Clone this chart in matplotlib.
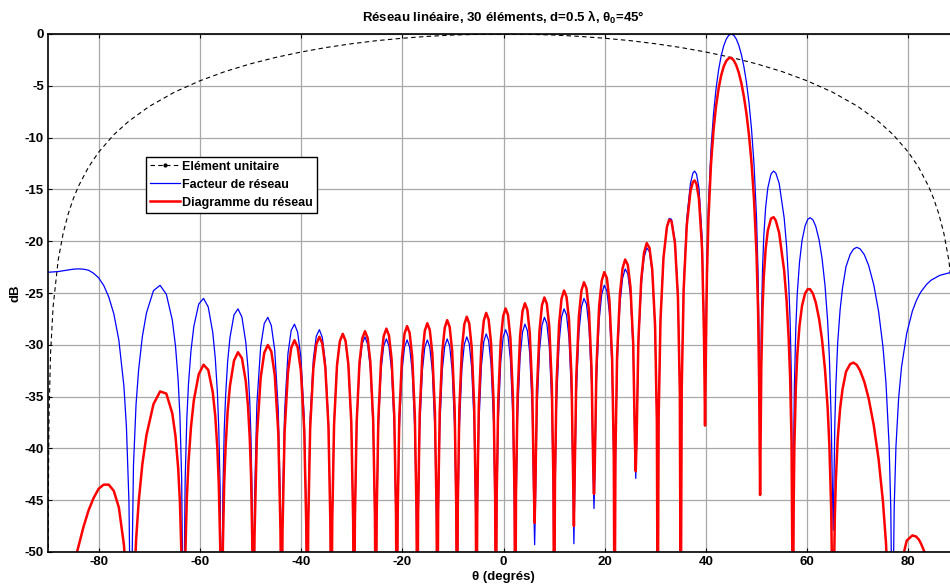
import matplotlib
matplotlib.use('Agg')
import matplotlib.pyplot as plt
from matplotlib.lines import Line2D

plt.rcParams['font.family'] = ['Liberation Sans', 'DejaVu Sans']
plt.rcParams['font.weight'] = 'bold'
plt.rcParams['axes.unicode_minus'] = False
plt.rcParams['mathtext.fontset'] = 'custom'
plt.rcParams['mathtext.rm'] = 'Liberation Sans:bold'
plt.rcParams['mathtext.bf'] = 'Liberation Sans:bold'
plt.rcParams['mathtext.default'] = 'bf'

# angle grid (deg), one line per lobe, last value of each line is the null
theta = [
    -90.00, -89.00, -88.00, -87.00, -86.00, -85.00, -84.00, -83.00, -82.00, -81.00, -80.00, -79.00, -78.00, -77.00,
    -76.00, -75.00, -74.50, -74.00, -73.65,
    -73.11, -72.60, -72.09, -71.36, -70.54, -69.16, -67.85, -66.62, -65.44, -64.81, -64.28, -63.93, -63.59, -63.24,
    -62.90, -62.57, -62.24, -61.75, -61.19, -60.22, -59.27, -58.34, -57.45, -56.95, -56.53, -56.26, -55.98, -55.71,
    -55.44, -55.18, -54.90, -54.51, -54.05, -53.25, -52.46, -51.68, -50.92, -50.49, -50.13, -49.89, -49.66, -49.43,
    -49.19, -48.73, -47.98, -47.27, -46.57, -45.88, -45.20, -44.50, -44.07, -43.86,
    -43.66, -43.25, -42.59, -41.95, -41.30, -40.68, -40.04, -39.38, -38.97, -38.77,
    -38.58, -38.20, -37.58, -36.99, -36.38, -35.80, -35.21, -34.59, -34.21, -34.02,
    -33.84, -33.48, -32.90, -32.34, -31.76, -31.21, -30.65, -30.07, -29.71, -29.53,
    -29.36, -29.01, -28.46, -27.92, -27.37, -26.84, -26.31, -25.75, -25.40, -25.23,
    -25.06, -24.73, -24.19, -23.67, -23.14, -22.63, -22.11, -21.57, -21.24, -21.07,
    -20.91, -20.59, -20.06, -19.56, -19.05, -18.55, -18.04, -17.52, -17.19, -17.03,
    -16.87, -16.56, -16.04, -15.55, -15.05, -14.56, -14.06, -13.55, -13.23, -13.07,
    -12.91, -12.60, -12.10, -11.61, -11.13, -10.64, -10.15, -9.65, -9.34, -9.18,
    -9.03, -8.72, -8.22, -7.74, -7.26, -6.77, -6.29, -5.79, -5.48, -5.33,
    -5.18, -4.87, -4.37, -3.89, -3.42, -2.94, -2.46, -1.96, -1.65, -1.50,
    -1.35, -1.04, -0.55, -0.07, 0.41, 0.89, 1.37, 1.86, 2.17, 2.32,
    2.47, 2.78, 3.28, 3.76, 4.23, 4.71, 5.19, 5.69, 6.00, 6.15,
    6.30, 6.61, 7.12, 7.60, 8.08, 8.56, 9.05, 9.55, 9.86, 10.01,
    10.17, 10.48, 10.99, 11.47, 11.96, 12.45, 12.94, 13.44, 13.75, 13.91,
    14.07, 14.39, 14.90, 15.40, 15.90, 16.39, 16.89, 17.40, 17.72, 17.88,
    18.04, 18.37, 18.90, 19.41, 19.91, 20.42, 20.93, 21.46, 21.79, 21.95,
    22.12, 22.45, 23.00, 23.52, 24.04, 24.56, 25.09, 25.63, 25.96, 26.13,
    26.30, 26.65, 27.22, 27.76, 28.30, 28.84, 29.39, 29.95, 30.30, 30.47,
    30.65, 31.02, 31.61, 32.29, 32.74, 33.20, 33.88, 34.47, 34.84, 35.02,
    35.21, 35.60, 36.22, 36.94, 37.42, 37.76, 38.14, 38.62, 39.24, 39.63, 39.82,
    40.00, 40.20, 40.50, 41.00, 41.50, 42.00, 42.50, 43.00, 43.50, 44.00, 44.50, 45.00,
    45.50, 46.00, 46.50, 47.00, 47.50, 48.00, 48.50, 49.00, 49.50, 50.00, 50.30, 50.50, 50.70,
    50.82, 50.94, 51.18, 51.42, 51.79, 52.22, 52.85, 53.37, 53.81, 54.47, 55.46, 55.94, 56.35, 56.63, 56.91, 57.20,
    57.33, 57.47, 57.76, 58.04, 58.48, 58.99, 59.59, 60.12, 60.58, 61.14, 61.70, 62.35, 62.93, 63.52, 64.04, 64.39,
    64.75, 65.13,
    65.29, 65.47, 65.66, 66.03, 66.51, 66.99, 67.68, 68.50, 69.14, 69.79, 70.46, 71.29, 72.14, 73.16, 74.11, 74.97,
    75.57, 76.19, 76.52, 76.85,
    77.19, 77.54, 78.08, 78.65, 79.67, 80.79, 81.50, 82.07, 82.50, 83.61, 84.50, 86.18, 88.00, 90.00,
]

# array factor (dB), -60 = below the axis
facteur = [
    -23.00, -22.97, -22.93, -22.85, -22.77, -22.70, -22.67, -22.70, -22.80, -23.09, -23.53, -24.26, -25.37, -27.00,
    -29.55, -34.00, -37.96, -45.20, -60,
    -41.62, -35.73, -32.39, -29.21, -26.91, -24.77, -24.26, -25.12, -27.61, -30.11, -33.45, -36.91, -42.92, -60,
    -43.02, -37.12, -33.76, -30.57, -28.24, -26.07, -25.52, -26.35, -28.80, -31.29, -34.61, -38.06, -44.05, -60,
    -44.13, -38.24, -34.85, -31.66, -29.31, -27.11, -26.53, -27.33, -29.76, -32.24, -35.54, -39.00, -44.97, -60,
    -45.03, -35.74, -30.17, -27.95, -27.35, -28.13, -30.54, -36.30, -45.71, -60,
    -45.78, -36.47, -30.87, -28.62, -28.01, -28.78, -31.17, -36.91, -46.32, -60,
    -46.37, -37.04, -31.43, -29.17, -28.54, -29.29, -31.67, -37.40, -46.79, -60,
    -46.83, -37.50, -31.87, -29.60, -28.95, -29.69, -32.05, -37.76, -47.15, -60,
    -47.17, -37.83, -32.19, -29.90, -29.24, -29.96, -32.31, -38.01, -47.39, -60,
    -47.40, -38.06, -32.40, -30.10, -29.43, -30.14, -32.48, -38.16, -47.54, -60,
    -47.57, -38.21, -32.54, -30.22, -29.53, -30.22, -32.54, -38.21, -47.57, -60,
    -47.57, -38.21, -32.54, -30.22, -29.53, -30.22, -32.54, -38.21, -47.57, -60,
    -47.54, -38.16, -32.48, -30.14, -29.43, -30.10, -32.40, -38.06, -47.40, -60,
    -47.39, -38.01, -32.31, -29.96, -29.24, -29.90, -32.19, -37.83, -47.17, -60,
    -47.15, -37.76, -32.05, -29.69, -28.95, -29.60, -31.87, -37.50, -46.83, -60,
    -46.79, -37.40, -31.67, -29.29, -28.54, -29.17, -31.43, -37.04, -46.37, -60,
    -46.32, -36.91, -31.17, -28.78, -28.01, -28.62, -30.87, -36.47, -45.78, -49.3,
    -45.73, -36.31, -30.54, -28.13, -27.35, -27.95, -30.18, -35.75, -45.05, -60,
    -44.99, -35.56, -29.77, -27.34, -26.53, -27.11, -29.31, -34.86, -44.15, -49.2,
    -44.08, -34.63, -28.81, -26.35, -25.52, -26.07, -28.25, -33.77, -43.04, -45.8,
    -42.94, -33.47, -27.62, -25.13, -24.26, -24.78, -26.92, -32.41, -41.66, -60,
    -41.54, -32.04, -26.14, -23.60, -22.68, -23.15, -25.24, -30.68, -39.90, -42.9,
    -39.76, -30.21, -24.23, -21.62, -20.63, -21.02, -23.05, -28.41, -37.58, -60,
    -37.27, -27.68, -21.62, -18.57, -17.80, -17.89, -19.92, -25.08, -34.11, -60,
    -33.77, -24.05, -17.77, -14.42, -13.43, -13.23, -13.52, -14.87, -19.59, -28.31, -36.5,
    -28.76, -21.86, -16.38, -11.07, -7.68, -5.26, -3.47, -2.13, -1.16, -0.51, -0.13, 0.00,
    -0.12, -0.49, -1.10, -1.98, -3.15, -4.66, -6.61, -9.14, -12.59, -17.81, -23.13, -29.55, -40.8,
    -34.14, -28.31, -22.68, -19.59, -16.78, -14.87, -13.52, -13.23, -13.43, -14.42, -17.77, -20.51, -24.05, -27.64,
    -33.77, -60,
    -40.03, -34.11, -28.32, -25.08, -22.06, -19.92, -18.51, -17.89, -17.73, -17.94, -18.57, -19.86, -21.62, -24.24,
    -27.68, -31.20, -37.27, -47.9,
    -43.44, -37.49, -34.05, -29.82, -26.61, -24.50, -22.44, -21.27, -20.77, -20.59, -20.74, -21.30, -22.33, -24.21,
    -26.77, -30.16, -33.65, -39.69, -45.73, -60,
    -45.81, -39.85, -35.09, -32.13, -28.89, -26.74, -25.82, -25.24, -24.87, -24.16, -23.76, -23.30, -23.06, -22.99,
]

# array pattern (dB)
diagramme = [
    -60, -60, -60, -60, -54.3, -51.4, -49.5, -47.6, -46.0, -44.8, -43.9, -43.5, -43.5, -44.1,
    -45.7, -49.3, -52.8, -60, -60,
    -55.14, -48.88, -45.19, -41.53, -38.71, -35.73, -34.50, -34.71, -36.62, -38.82, -41.91, -45.21, -51.07, -60,
    -50.87, -44.83, -41.33, -37.94, -35.38, -32.84, -31.92, -32.42, -34.56, -36.88, -40.06, -43.42, -49.32, -60,
    -49.22, -43.25, -39.77, -36.46, -33.97, -31.53, -30.72, -31.30, -33.52, -35.89, -39.09, -42.49, -48.40, -60,
    -48.34, -38.93, -33.18, -30.78, -30.02, -30.64, -32.90, -38.51, -47.82, -60,
    -47.81, -38.41, -32.68, -30.30, -29.56, -30.22, -32.48, -38.11, -47.44, -60,
    -47.42, -38.03, -32.31, -29.95, -29.22, -29.87, -32.16, -37.80, -47.13, -60,
    -47.12, -37.73, -32.02, -29.67, -28.94, -29.61, -31.90, -37.53, -46.88, -60,
    -46.85, -37.47, -31.76, -29.41, -28.69, -29.35, -31.64, -37.28, -46.62, -60,
    -46.59, -37.22, -31.51, -29.16, -28.44, -29.10, -31.39, -37.02, -46.38, -60,
    -46.38, -36.99, -31.28, -28.92, -28.19, -28.84, -31.12, -36.76, -46.10, -60,
    -46.07, -36.69, -30.99, -28.64, -27.92, -28.58, -30.87, -36.52, -45.86, -60,
    -45.81, -36.42, -30.71, -28.35, -27.62, -28.27, -30.55, -36.19, -45.52, -60,
    -45.50, -36.11, -30.39, -28.02, -27.29, -27.94, -30.22, -35.84, -45.18, -60,
    -45.15, -35.76, -30.04, -27.67, -26.92, -27.56, -29.83, -35.46, -44.78, -60,
    -44.74, -35.35, -29.62, -27.24, -26.49, -27.12, -29.38, -35.00, -44.33, -60,
    -44.28, -34.88, -29.14, -26.75, -25.99, -26.61, -28.87, -34.48, -43.80, -47.2,
    -43.76, -34.34, -28.59, -26.19, -25.43, -26.04, -28.29, -33.88, -43.19, -60,
    -43.14, -33.72, -27.95, -25.54, -24.76, -25.36, -27.58, -33.16, -42.47, -47.5,
    -42.41, -32.98, -27.19, -24.76, -23.96, -24.54, -26.75, -32.31, -41.60, -44.4,
    -41.52, -32.08, -26.27, -23.82, -22.99, -23.55, -25.73, -31.26, -40.54, -60,
    -40.45, -30.98, -25.13, -22.64, -21.77, -22.29, -24.44, -29.93, -39.19, -42.2,
    -39.09, -29.57, -23.66, -21.12, -20.18, -20.64, -22.74, -28.16, -37.38, -60,
    -37.12, -27.57, -21.59, -18.64, -17.93, -18.08, -20.21, -25.46, -34.55, -60,
    -34.27, -24.61, -18.43, -15.19, -14.28, -14.14, -14.49, -15.93, -20.76, -29.55, -37.8,
    -30.07, -23.20, -17.78, -12.56, -9.27, -6.95, -5.26, -4.02, -3.15, -2.61, -2.34, -2.31,
    -2.55, -3.03, -3.75, -4.75, -6.04, -7.67, -9.74, -12.40, -15.98, -21.33, -26.72, -33.20, -44.5,
    -37.87, -32.08, -26.51, -23.49, -20.78, -18.99, -17.82, -17.68, -18.02, -19.21, -22.87, -25.76, -29.44, -33.12,
    -39.34, -60,
    -45.74, -39.87, -34.18, -31.04, -28.18, -26.22, -25.04, -24.62, -24.64, -25.06, -25.92, -27.48, -29.48, -32.36,
    -36.04, -39.72, -45.95, -60,
    -52.38, -46.51, -43.16, -39.12, -36.14, -34.28, -32.59, -31.86, -31.72, -31.93, -32.49, -33.57, -35.16, -37.76,
    -41.03, -45.11, -49.10, -55.69, -60, -60,
    -60, -60, -55.0, -51.0, -48.9, -48.4, -48.5, -48.8, -49.2, -50.5, -52.0, -55.4, -60, -60,
]

# single element pattern (dB)
theta_elem = [-90, -89.95, -89.8, -89.5, -89, -88, -87, -86, -85, -84, -82, -80, -77, -74,
              -70, -65, -60, -55, -50, -45, -40, -35, -30, -25, -20, -15, -10, -5, 0,
              5, 10, 15, 20, 25, 30, 35, 40, 45, 50, 55, 60, 65, 70,
              74, 77, 80, 82, 84, 85, 86, 87, 88, 89, 89.5, 89.8, 89.95, 90]
element = [-60, -45.89, -36.86, -30.89, -26.37, -21.86, -19.22, -17.35, -15.90, -14.71, -12.85, -11.41, -9.72, -8.40,
           -6.99, -5.61, -4.52, -3.62, -2.88, -2.26, -1.74, -1.30, -0.94, -0.64, -0.41, -0.23, -0.10, -0.03, 0.00,
           -0.03, -0.10, -0.23, -0.41, -0.64, -0.94, -1.30, -1.74, -2.26, -2.88, -3.62, -4.52, -5.61, -6.99,
           -8.40, -9.72, -11.41, -12.85, -14.71, -15.90, -17.35, -19.22, -21.86, -26.37, -30.89, -36.86, -45.89, -60]

fig = plt.figure(figsize=(9.5, 5.86), dpi=100)
ax = fig.add_axes([48 / 950, 1 - 552 / 586, 911 / 950, 518 / 586])

dash = (0, (4, 3))
ax.plot(theta_elem, element, color='k', lw=0.8, ls=dash)
ax.plot(theta, facteur, color='#0000ff', lw=0.9)
ax.plot(theta, diagramme, color='#ff0000', lw=1.8)

ax.set_xlim(-90, 90)
ax.set_ylim(-50, 0)
ax.set_xticks(range(-80, 81, 20))
ax.set_yticks(range(-50, 1, 5))
ax.grid(True, color='#a8a8a8', lw=0.9)
ax.set_axisbelow(True)
ax.tick_params(direction='in', top=True, right=True, length=3, width=0.8,
               labelsize=9.5, pad=3)
for s in ax.spines.values():
    s.set_linewidth(1.2)

ax.set_title('Réseau linéaire, 30 éléments, d=0.5 λ, θ$_0$=45°',
             fontsize=9.5, fontweight='bold', pad=9)
ax.set_xlabel('θ (degrés)', fontsize=9.5, fontweight='bold', labelpad=2)
ax.set_ylabel('dB', fontsize=9.5, fontweight='bold', labelpad=2)

handles = [
    Line2D([], [], color='k', lw=0.8, ls=dash, marker='.', markersize=4),
    Line2D([], [], color='#0000ff', lw=0.9),
    Line2D([], [], color='#ff0000', lw=1.8),
]
labels = ['Elément unitaire', 'Facteur de réseau', 'Diagramme du réseau']
leg = ax.legend(handles, labels, loc='upper left', bbox_to_anchor=(0.1076, 0.7625),
                borderaxespad=0, fancybox=False, framealpha=1, edgecolor='k',
                fontsize=9, handlelength=2.4, handletextpad=0.2,
                labelspacing=0.48, borderpad=0.3)
leg.get_frame().set_linewidth(1.0)

fig.savefig('out.png', dpi=100)
